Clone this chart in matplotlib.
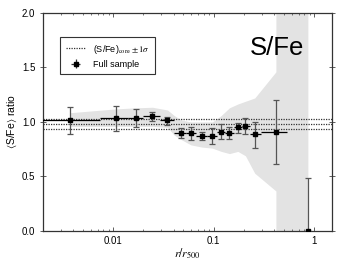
import numpy as np
import matplotlib
matplotlib.use("Agg")
import matplotlib.pyplot as plt

plt.rcParams['font.family'] = ['Liberation Sans', 'DejaVu Sans']
plt.rcParams['mathtext.fontset'] = 'stix'

# data points
r = [0.00373, 0.0106, 0.0169, 0.0246, 0.0347, 0.0472, 0.0593, 0.0758, 0.097,
     0.119, 0.1435, 0.174, 0.207, 0.256, 0.416, 0.865]
ratio = [1.016, 1.034, 1.04, 1.052, 1.018, 0.902, 0.896, 0.872, 0.869,
         0.911, 0.902, 0.951, 0.966, 0.89, 0.905, 0.0]
err_hi = [1.14, 1.15, 1.12, 1.095, 1.049, 0.942, 0.954, 0.911, 0.942,
          0.979, 0.957, 0.988, 1.034, 1.003, 1.20, 0.485]
err_lo = [0.89, 0.917, 0.957, 1.012, 0.972, 0.856, 0.835, 0.835, 0.795,
          0.841, 0.841, 0.902, 0.89, 0.764, 0.615, 0.0]
bin_lo = [0.0015, 0.0074, 0.0141, 0.0199, 0.0291, 0.0404, 0.053, 0.067, 0.086,
          0.107, 0.131, 0.158, 0.19, 0.228, 0.295, 0.865]
bin_hi = [0.0074, 0.0141, 0.0199, 0.0291, 0.0404, 0.053, 0.067, 0.086, 0.107,
          0.131, 0.158, 0.19, 0.228, 0.295, 0.54, 0.865]

# shaded band
band_x = [0.00373, 0.0106, 0.0169, 0.0246, 0.0347, 0.0404, 0.0472, 0.0593, 0.0758,
          0.097, 0.119, 0.1435, 0.174, 0.207, 0.256, 0.416, 0.4161, 0.865]
band_up = [1.085, 1.12, 1.13, 1.135, 1.11, 1.06, 1.02, 1.0, 1.0,
           1.0, 1.06, 1.13, 1.165, 1.19, 1.22, 1.46, 2.1, 2.1]
band_dn = [0.96, 0.96, 0.96, 0.96, 0.95, 0.88, 0.84, 0.79, 0.77,
           0.76, 0.73, 0.71, 0.73, 0.69, 0.53, 0.367, -0.1, -0.1]

core = 0.982
core_sig = 0.046

fig = plt.figure(figsize=(3.49, 2.63), dpi=100)
ax = fig.add_axes([0.123, 0.1217, 0.828, 0.829])

ax.fill_between(band_x, band_dn, band_up, color='#e3e3e3', lw=0, zorder=1)

for v in (core - core_sig, core, core + core_sig):
    ax.axhline(v, color='#333333', ls=(0, (1, 1)), lw=0.9, zorder=2)

r_a = np.array(r)
xerr = [r_a - np.array(bin_lo), np.array(bin_hi) - r_a]
yerr = [np.array(ratio) - np.array(err_lo), np.array(err_hi) - np.array(ratio)]
ax.errorbar(r, ratio, yerr=yerr, fmt='none', ecolor='#555555', elinewidth=0.9,
            capsize=2, capthick=0.9, zorder=3)
ax.errorbar(r, ratio, xerr=xerr, fmt='none', ecolor='black', elinewidth=0.9,
            capsize=0, zorder=3)
ax.plot(r, ratio, 's', color='black', ms=3.3, zorder=4)

# legend handles
h1, = ax.plot([], [], color='#333333', ls=(0, (1, 1)), lw=0.9)
h2 = ax.errorbar([], [], xerr=[], yerr=[], fmt='s', color='black', ms=3.3,
                 ecolor='#333333', elinewidth=0.9, capsize=1.5)
leg = ax.legend([h1, h2], [r'(S/Fe)$_{\rm core}$ $\pm1\sigma$', 'Full sample'],
                loc='upper left', bbox_to_anchor=(0.045, 0.91), fontsize=6.5,
                fancybox=False, edgecolor='#333333', framealpha=1,
                handlelength=2.2, borderpad=0.6, labelspacing=0.5)
leg.get_frame().set_linewidth(0.8)

ax.text(0.81, 0.84, 'S/Fe', transform=ax.transAxes, fontsize=18.5,
        ha='center', va='center')

ax.set_xscale('log')
ax.set_xlim(0.002, 1.5)
ax.set_ylim(0.0, 2.0)
ax.set_yticks([0.0, 0.5, 1.0, 1.5, 2.0])
ax.set_yticklabels(['0.0', '0.5', '1.0', '1.5', '2.0'])
ax.set_xticks([0.01, 0.1, 1])
ax.set_xticklabels(['0.01', '0.1', '1'])
ax.tick_params(which='both', direction='in', top=True, right=True,
               labelsize=7, color='#444444')
ax.tick_params(which='major', length=3, width=0.6)
ax.tick_params(which='minor', length=1.5, width=0.5)
ax.tick_params(axis='y', which='major', direction='inout', length=4)
for s in ax.spines.values():
    s.set_linewidth(0.9)
    s.set_color('#333333')

ax.set_xlabel(r'$r/r_{500}$', fontsize=8.5, labelpad=0.5)
ax.set_ylabel(r'$\langle$S/Fe$\rangle$ ratio', fontsize=7.5, labelpad=2)

fig.savefig('out.png', dpi=100)
